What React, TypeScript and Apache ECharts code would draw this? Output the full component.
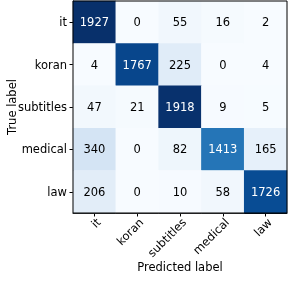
import React, { useEffect, useRef } from "react";
import * as echarts from "echarts";

const predictedLabels = ["it", "koran", "subtitles", "medical", "law"];
const trueLabels = ["it", "koran", "subtitles", "medical", "law"];
const matrix = [
  [1927, 0, 55, 16, 2],
  [4, 1767, 225, 0, 4],
  [47, 21, 1918, 9, 5],
  [340, 0, 82, 1413, 165],
  [206, 0, 10, 58, 1726],
];
const blues = ["#f7fbff", "#deebf7", "#c6dbef", "#9ecae1", "#6baed6", "#4292c6", "#2171b5", "#08519c", "#08306b"];

export default function App() {
  const ref = useRef<HTMLDivElement>(null);
  useEffect(() => {
    const chart = echarts.init(ref.current!, null, { renderer: "svg" });
    let max = 0;
    matrix.forEach((r) => r.forEach((v) => (max = Math.max(max, v))));
    const data: any[] = [];
    matrix.forEach((row, i) =>
      row.forEach((v, j) => {
        data.push({
          value: [j, i, v],
          label: { color: v > max / 2 ? "#ffffff" : "#000000" },
        });
      })
    );
    const font = "DejaVu Sans";
    const fs = 11.5;
    chart.setOption({
      animation: false,
      textStyle: { fontFamily: font },
      grid: { left: 73, top: 1, width: 214, height: 212, show: true, borderColor: "#000", borderWidth: 1, backgroundColor: "transparent", z: 10 },
      xAxis: {
        type: "category",
        data: predictedLabels,
        axisLine: { show: true, lineStyle: { color: "#000" } },
        axisTick: { show: true, alignWithLabel: true, length: 3.5, lineStyle: { color: "#000" } },
        axisLabel: { rotate: 45, color: "#000", fontSize: fs, fontFamily: font, margin: 3, verticalAlign: "top" },
        splitLine: { show: false },
      },
      yAxis: {
        type: "category",
        data: trueLabels,
        inverse: true,
        axisLine: { show: true, lineStyle: { color: "#000" } },
        axisTick: { show: true, alignWithLabel: true, length: 3.5, lineStyle: { color: "#000" } },
        axisLabel: { color: "#000", fontSize: fs, fontFamily: font, margin: 6 },
        splitLine: { show: false },
      },
      visualMap: {
        show: false,
        type: "continuous",
        min: 0,
        max: max,
        dimension: 2,
        inRange: { color: blues },
      },
      graphic: [
        {
          type: "text",
          x: 12,
          y: 107,
          rotation: Math.PI / 2,
          style: { text: "True label", fontSize: fs, fontFamily: font, fill: "#000", align: "center", verticalAlign: "middle" },
        },
        {
          type: "text",
          x: 180,
          y: 267,
          style: { text: "Predicted label", fontSize: fs, fontFamily: font, fill: "#000", align: "center", verticalAlign: "middle" },
        },
      ],
      series: [
        {
          type: "heatmap",
          data: data,
          label: { show: true, fontSize: fs, fontFamily: font, formatter: (p: any) => String(p.value[2]) },
          itemStyle: { borderWidth: 0 },
          emphasis: { disabled: true },
        },
      ],
    });
    return () => chart.dispose();
  }, []);
  return <div ref={ref} style={{ position: "fixed", left: 0, top: 0, width: 298, height: 282 }} />;
}
